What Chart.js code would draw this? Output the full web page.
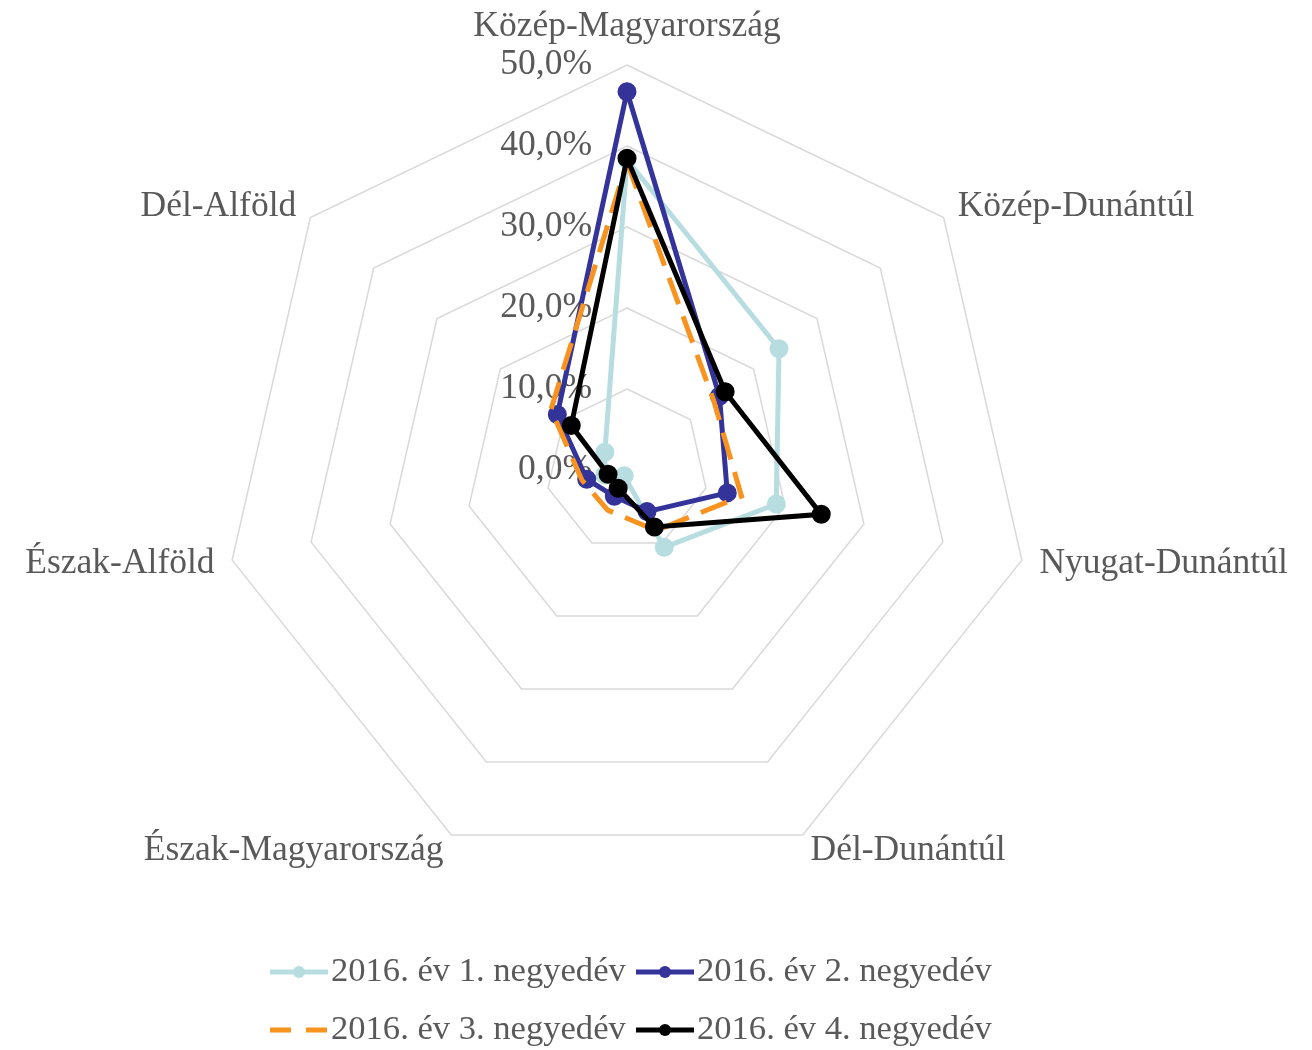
<!DOCTYPE html>
<html>
<head>
<meta charset="utf-8">
<script src="https://cdn.jsdelivr.net/npm/chart.js@4.4.1/dist/chart.umd.min.js"></script>
<style>
    html, body { margin: 0; padding: 0; background: #ffffff; }
    #regio-chart { display: block; }
</style>
</head>
<body>
<canvas id="regio-chart" width="1312" height="1050"></canvas>
<script>
const regiok = [
    "Közép-Magyarország",
    "Közép-Dunántúl",
    "Nyugat-Dunántúl",
    "Dél-Dunántúl",
    "Észak-Magyarország",
    "Észak-Alföld",
    "Dél-Alföld"
];
const negyedev1 = [38.3, 24.0, 18.9, 10.6, 0.8, 2.8, 3.5];
const negyedev2 = [46.7, 14.6, 12.7, 5.7, 3.6, 5.1, 11.0];
const negyedev3 = [38.0, 13.7, 14.5, 8.3, 5.5, 5.7, 12.0];
const negyedev4 = [38.5, 15.5, 24.6, 7.8, 2.5, 2.4, 8.8];
const sorozatNevek = [
    "2016. év 1. negyedév",
    "2016. év 2. negyedév",
    "2016. év 3. negyedév",
    "2016. év 4. negyedév"
];
const tengelyErtekek = [0, 10, 20, 30, 40, 50];

const szovegSzin = '#595959';
const betu = '35.5px "Liberation Serif", "Times New Roman", serif';
const jelmagyarazatBetu = '34.6px "Liberation Serif", "Times New Roman", serif';

function formatSzazalek(v) {
    return v.toFixed(1).replace('.', ',') + '%';
}

// Tengely feliratok (jobbra igazítva a függőleges tengely mellett)
const tengelyFeliratok = {
    id: 'tengelyFeliratok',
    beforeDatasetsDraw(chart) {
        const r = chart.scales.r;
        const ctx = chart.ctx;
        ctx.save();
        ctx.font = betu;
        ctx.fillStyle = szovegSzin;
        ctx.textAlign = 'right';
        ctx.textBaseline = 'middle';
        tengelyErtekek.forEach(v => {
            const d = r.getDistanceFromCenterForValue(v);
            ctx.fillText(formatSzazalek(v), r.xCenter - 35, r.yCenter - d);
        });
        ctx.restore();
    },
    afterDraw(chart) {
        const r = chart.scales.r;
        const ctx = chart.ctx;
        ctx.save();
        ctx.font = betu;
        ctx.fillStyle = szovegSzin;
        ctx.textBaseline = 'middle';
        regiok.forEach((nev, i) => {
            const p = r.getPointPosition(i, r.drawingArea + 18);
            if (i === 0) {
                ctx.textAlign = 'center';
                ctx.fillText(nev, p.x, p.y - 20);
            } else if (p.x > r.xCenter) {
                ctx.textAlign = 'left';
                ctx.fillText(nev, p.x, p.y);
            } else {
                ctx.textAlign = 'right';
                ctx.fillText(nev, p.x, p.y);
            }
        });

        // Jelmagyarázat
        ctx.font = jelmagyarazatBetu;
        const helyek = [[270, 972], [636, 972], [270, 1030], [636, 1030]];
        chart.data.datasets.forEach((ds, i) => {
            const [x, y] = helyek[i];
            ctx.save();
            ctx.strokeStyle = ds.borderColor;
            ctx.lineWidth = ds.borderWidth;
            ctx.setLineDash(ds.borderDash ? [21, 15] : []);
            ctx.beginPath();
            ctx.moveTo(x, y);
            ctx.lineTo(x + 58, y);
            ctx.stroke();
            if (ds.pointRadius > 0) {
                ctx.fillStyle = ds.borderColor;
                ctx.beginPath();
                ctx.arc(x + 29, y, 6, 0, Math.PI * 2);
                ctx.fill();
            }
            ctx.restore();
            ctx.textAlign = 'left';
            ctx.fillText(sorozatNevek[i], x + 61, y);
        });
        ctx.restore();
    }
};

const ctx = document.getElementById('regio-chart').getContext('2d');
const regioChart = new Chart(ctx, {
    type: 'radar',
    data: {
        labels: regiok,
        datasets: [
            {
                label: sorozatNevek[0],
                data: negyedev1,
                borderColor: '#b7dde1',
                backgroundColor: '#b7dde1',
                borderWidth: 5,
                pointRadius: 7,
                order: 4
            },
            {
                label: sorozatNevek[1],
                data: negyedev2,
                borderColor: '#333399',
                backgroundColor: '#333399',
                borderWidth: 5,
                pointRadius: 7,
                order: 3
            },
            {
                label: sorozatNevek[2],
                data: negyedev3,
                borderColor: '#f7931e',
                backgroundColor: '#f7931e',
                borderWidth: 5,
                borderDash: [28, 13],
                pointRadius: 0,
                order: 2
            },
            {
                label: sorozatNevek[3],
                data: negyedev4,
                borderColor: '#000000',
                backgroundColor: '#000000',
                borderWidth: 5,
                pointRadius: 7,
                order: 1
            }
        ]
    },
    options: {
        responsive: false,
        animation: false,
        devicePixelRatio: 1,
        layout: {
            padding: { top: 65, bottom: 175, left: 0, right: 58 }
        },
        elements: {
            line: { tension: 0, fill: false },
            point: { borderWidth: 0, hoverRadius: 7 }
        },
        scales: {
            r: {
                min: 0,
                max: 50,
                ticks: { display: false, stepSize: 10 },
                grid: { color: '#d9d9d9', lineWidth: 1.5 },
                angleLines: { display: false },
                pointLabels: { display: false }
            }
        },
        plugins: {
            legend: { display: false },
            tooltip: { enabled: false }
        }
    },
    plugins: [tengelyFeliratok]
});
</script>
</body>
</html>
